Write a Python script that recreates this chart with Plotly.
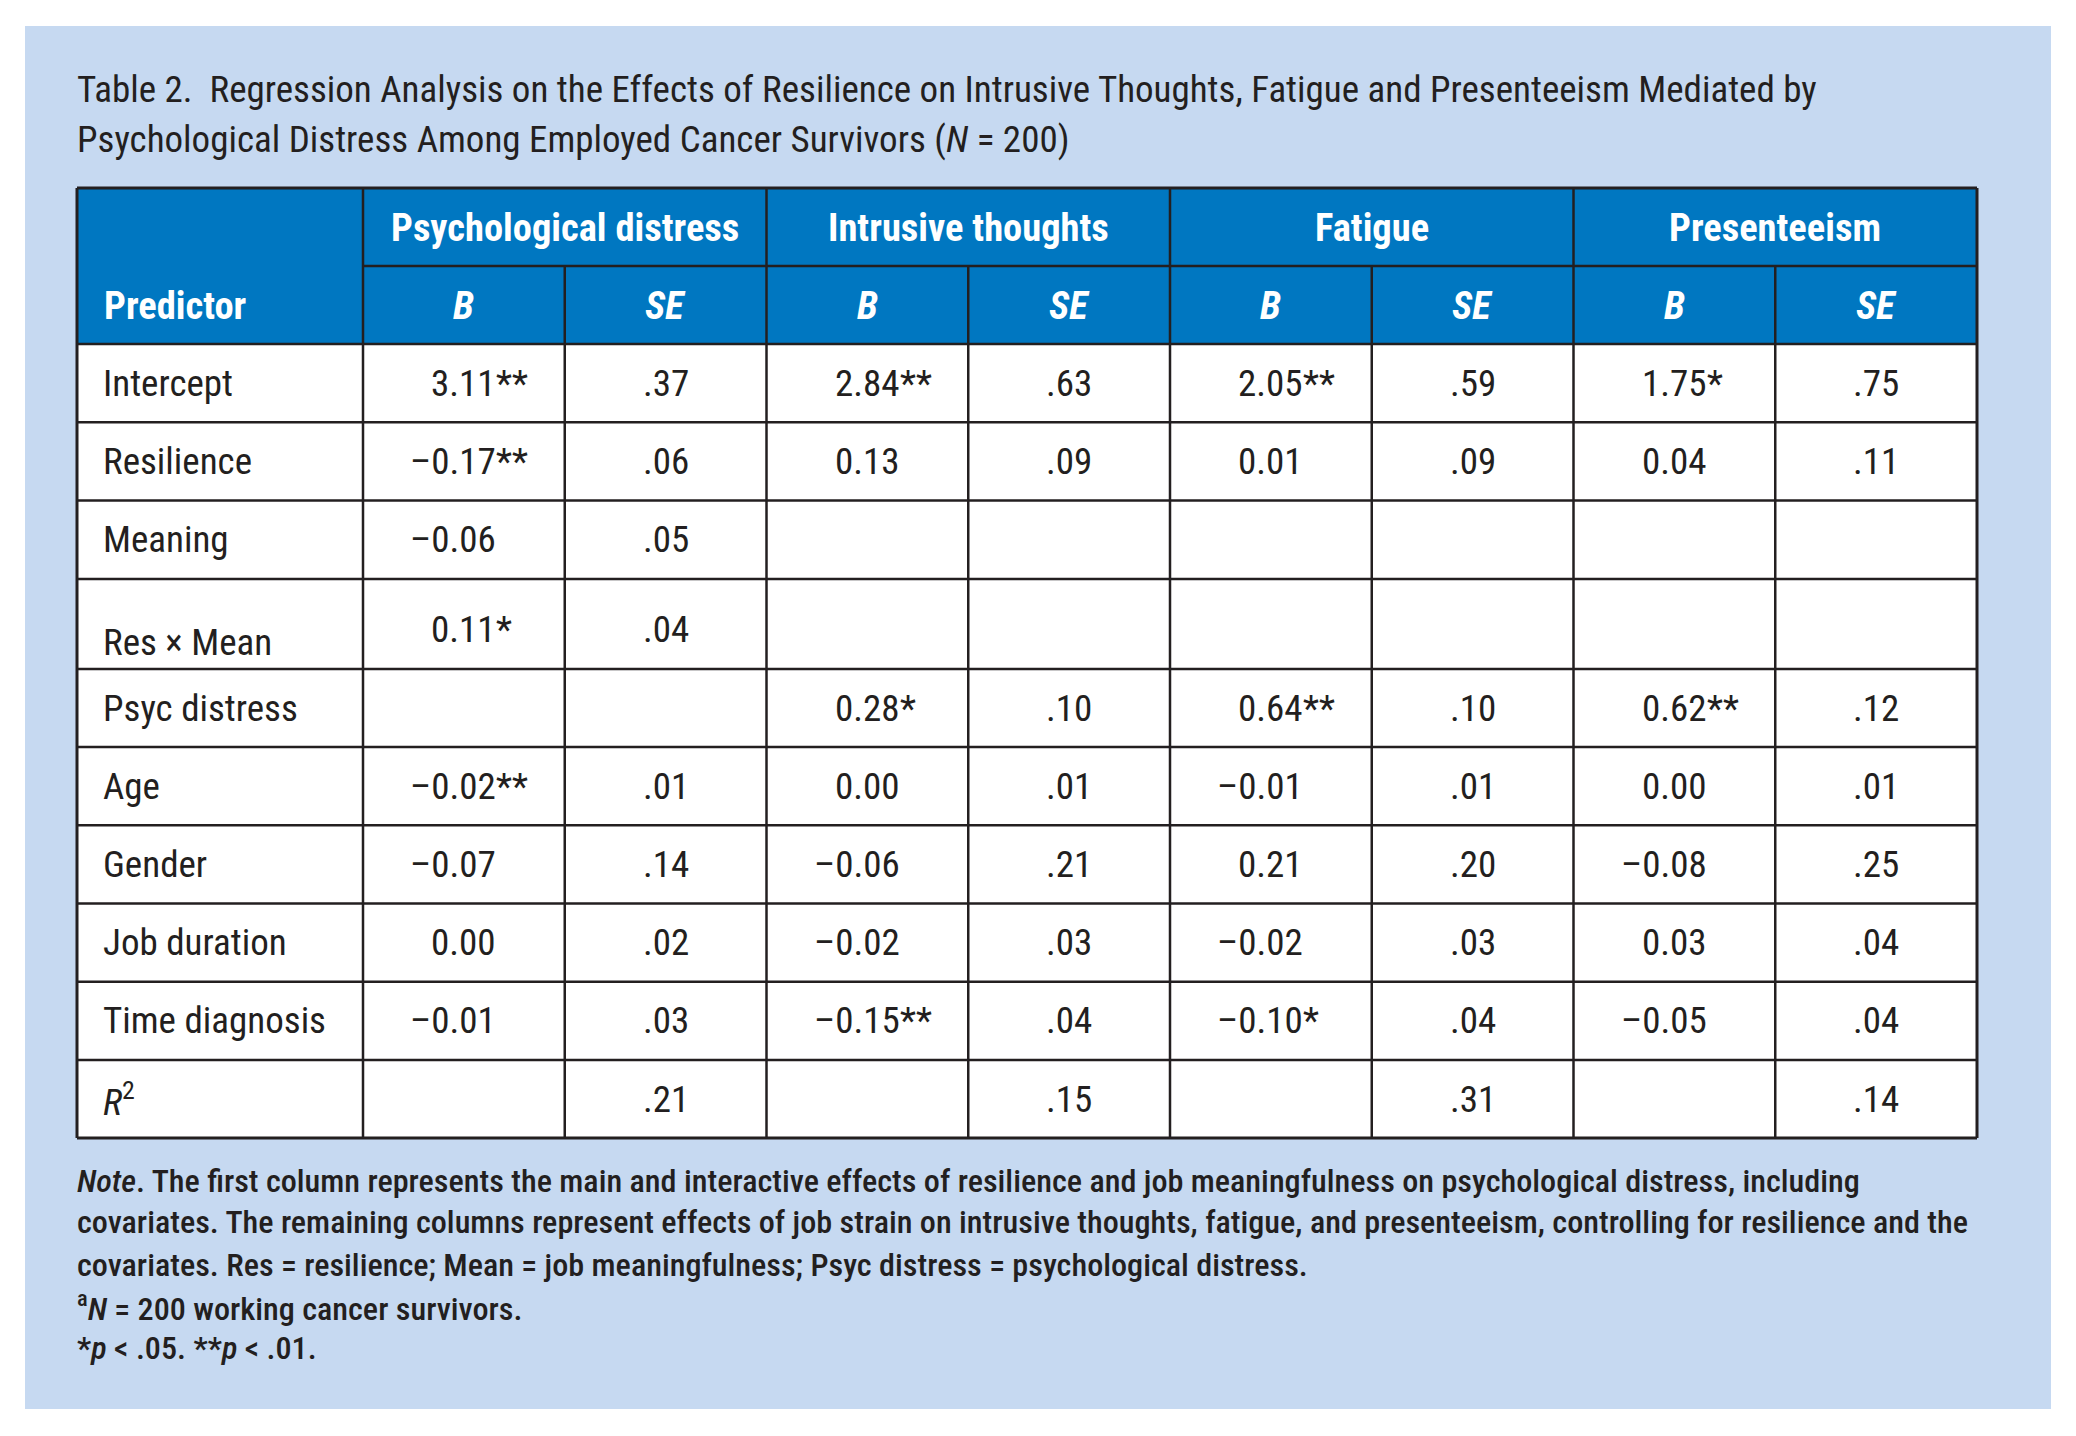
import plotly.graph_objects as go

# ---- data -------------------------------------------------------------
predictors = ["Intercept", "Resilience", "Meaning", "Res \u00d7 Mean", "Psyc distress",
              "Age", "Gender", "Job duration", "Time diagnosis"]
outcomes = ["Psychological distress", "Intrusive thoughts", "Fatigue", "Presenteeism"]

# unstandardised coefficients (None = predictor not in the model)
b_psych = [3.11, -0.17, -0.06, 0.11, None, -0.02, -0.07, 0.00, -0.01]
b_intr = [2.84, 0.13, None, None, 0.28, 0.00, -0.06, -0.02, -0.15]
b_fat = [2.05, 0.01, None, None, 0.64, -0.01, 0.21, -0.02, -0.10]
b_pres = [1.75, 0.04, None, None, 0.62, 0.00, -0.08, 0.03, -0.05]

# number of significance stars (* p < .05, ** p < .01)
st_psych = [2, 2, 0, 1, 0, 2, 0, 0, 0]
st_intr = [2, 0, 0, 0, 1, 0, 0, 0, 2]
st_fat = [2, 0, 0, 0, 2, 0, 0, 0, 1]
st_pres = [1, 0, 0, 0, 2, 0, 0, 0, 0]

# standard errors
se_psych = [0.37, 0.06, 0.05, 0.04, None, 0.01, 0.14, 0.02, 0.03]
se_intr = [0.63, 0.09, None, None, 0.10, 0.01, 0.21, 0.03, 0.04]
se_fat = [0.59, 0.09, None, None, 0.10, 0.01, 0.20, 0.03, 0.04]
se_pres = [0.75, 0.11, None, None, 0.12, 0.01, 0.25, 0.04, 0.04]

r2 = [0.21, 0.15, 0.31, 0.14]

B = [b_psych, b_intr, b_fat, b_pres]
STARS = [st_psych, st_intr, st_fat, st_pres]
SE = [se_psych, se_intr, se_fat, se_pres]

title_lines = [
    "Table 2.\u00a0\u00a0Regression Analysis on the Effects of Resilience on Intrusive Thoughts, "
    "Fatigue and Presenteeism Mediated by",
    "Psychological Distress Among Employed Cancer Survivors (<i>N</i> = 200)",
]
note_lines = [
    "<i>Note</i>. The first column represents the main and interactive effects of resilience "
    "and job meaningfulness on psychological distress, including",
    "covariates. The remaining columns represent effects of job strain on intrusive thoughts, "
    "fatigue, and presenteeism, controlling for resilience and the",
    "covariates. Res = resilience; Mean = job meaningfulness; Psyc distress = psychological distress.",
    "<sup>a</sup><i>N</i> = 200 working cancer survivors.",
    "*<i>p</i> &lt; .05. **<i>p</i> &lt; .01.",
]

# ---- look -------------------------------------------------------------
W, H = 2076, 1436
OFF = 8  # page body margin
FONT = "Roboto Condensed, Liberation Sans Narrow, DejaVu Sans Condensed, sans-serif"
PANEL = "#C6D9F1"
HEAD = "#0077C1"
INK = "#231F20"
LW = 2.5
CELL = 37
HSIZE = 38.5

col_x = [77, 363] + [363 + 201.75 * k for k in range(1, 9)]
head_y = [188, 266, 344]
row_h = [78.3, 78.3, 78.3, 90, 78.2, 78.2, 78.2, 78.2, 78.2, 78.2]
row_y = [344]
for h in row_h:
    row_y.append(row_y[-1] + h)
x0, x1 = col_x[0], col_x[-1]
y0, y1 = head_y[0], row_y[-1]


def fmt_b(v):
    return ("\u2013" if v < 0 else "") + f"{abs(v):.2f}"


def fmt_se(v):
    return f"{v:.2f}".lstrip("0")


fig = go.Figure()
shapes = []
ann = []


def line(xa, ya, xb, yb, w=LW):
    shapes.append(dict(type="line", x0=xa, y0=ya, x1=xb, y1=yb, xref="x", yref="y",
                       line=dict(color=INK, width=w)))


def txt(x, y, s, size=CELL, color=INK, xanchor="left", weight="normal"):
    ann.append(dict(x=x, y=y, text=s, xref="x", yref="y", showarrow=False,
                    xanchor=xanchor, yanchor="middle", borderpad=0, borderwidth=0,
                    font=dict(family=FONT, size=size, color=color, weight=weight)))


# panel, header band, body
shapes.append(dict(type="rect", x0=25, y0=26, x1=2051, y1=1409, xref="x", yref="y",
                   fillcolor=PANEL, line=dict(width=0), layer="below"))
shapes.append(dict(type="rect", x0=x0, y0=y0, x1=x1, y1=head_y[2], xref="x", yref="y",
                   fillcolor=HEAD, line=dict(width=0), layer="below"))
shapes.append(dict(type="rect", x0=x0, y0=head_y[2], x1=x1, y1=y1, xref="x", yref="y",
                   fillcolor="white", line=dict(width=0), layer="below"))

# grid
line(col_x[1], head_y[1], x1, head_y[1])
for y in row_y[:-1]:
    line(x0, y, x1, y)
for k, x in enumerate(col_x[1:-1], start=1):
    top = y0 if k % 2 == 1 else head_y[1]
    line(x, top, x, y1)
line(x0, y0, x1, y0, 3)
line(x0, y1, x1, y1, 3)
line(x0, y0, x0, y1, 3)
line(x1, y0, x1, y1, 3)

# title
txt(77, 89, title_lines[0], size=37)
txt(77, 139, title_lines[1], size=37)

# header
txt(104, (head_y[1] + head_y[2]) / 2, "<b>Predictor</b>", size=HSIZE, color="white")
for g, name in enumerate(outcomes):
    xc = (col_x[1 + 2 * g] + col_x[3 + 2 * g]) / 2
    txt(xc, (head_y[0] + head_y[1]) / 2, f"<b>{name}</b>", size=HSIZE, color="white",
        xanchor="center")
    for j, lab in enumerate(["B", "SE"]):
        xc = (col_x[1 + 2 * g + j] + col_x[2 + 2 * g + j]) / 2
        txt(xc, (head_y[1] + head_y[2]) / 2, f"<b><i>{lab}</i></b>", size=HSIZE,
            color="white", xanchor="center")

# body
labels = predictors + ["<i>R</i><sup>2</sup>"]
for i, lab in enumerate(labels):
    yc = (row_y[i] + row_y[i + 1]) / 2
    ylab = yc + 19 if i == 3 else yc
    yval = yc + 6 if i == 3 else yc
    txt(103, ylab, lab)
    for g in range(4):
        bl, br = col_x[1 + 2 * g], col_x[2 + 2 * g]
        sr = col_x[3 + 2 * g]
        if i < len(predictors):
            b = B[g][i]
            if b is not None:
                xd = bl + 0.66 * (br - bl)
                txt(xd, yval, fmt_b(b), xanchor="right")
                if STARS[g][i]:
                    txt(xd, yval, "*" * STARS[g][i], xanchor="left")
            se = SE[g][i]
            if se is not None:
                txt((br + sr) / 2, yval, fmt_se(se), xanchor="center")
        else:
            txt((br + sr) / 2, yval, fmt_se(r2[g]), xanchor="center")

# note
for k, s in enumerate(note_lines):
    txt(77, [1181, 1222, 1265, 1306, 1348][k], s, size=32.2, weight=500)

fig.update_layout(
    width=W, height=H,
    margin=dict(l=0, r=0, t=0, b=0),
    paper_bgcolor="white", plot_bgcolor="white",
    xaxis=dict(range=[OFF, W + OFF], visible=False, fixedrange=True),
    yaxis=dict(range=[H + OFF, OFF], visible=False, fixedrange=True),
    shapes=shapes, annotations=ann, showlegend=False,
)

fig.write_html("out.html")
